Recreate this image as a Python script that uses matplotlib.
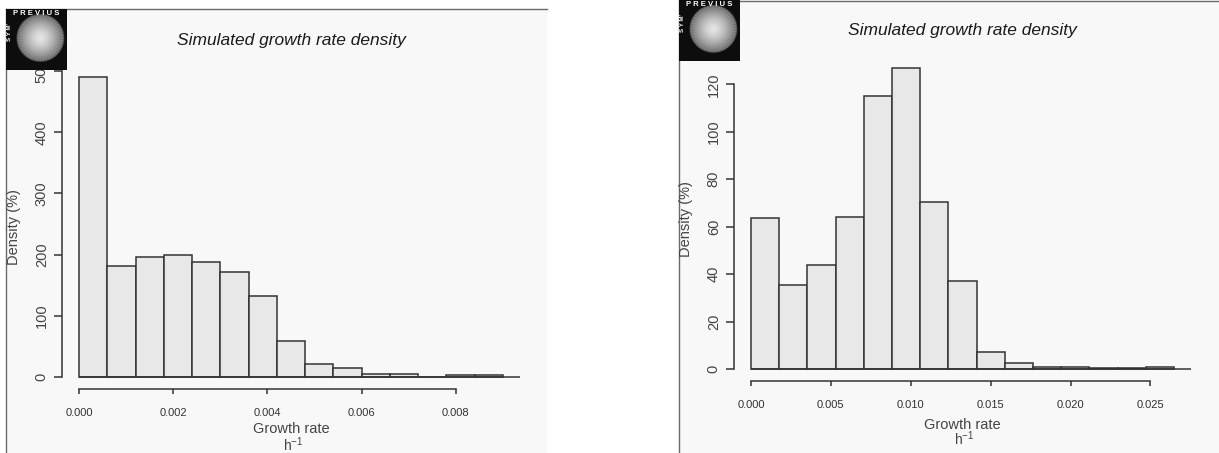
import numpy as np
import matplotlib
matplotlib.use("Agg")
import matplotlib.pyplot as plt
from matplotlib.patches import Rectangle
from matplotlib.lines import Line2D

plt.rcParams['font.family'] = ['Liberation Sans', 'DejaVu Sans']
plt.rcParams['mathtext.fontset'] = 'custom'
plt.rcParams['mathtext.rm'] = 'Liberation Sans'

# ---- data ----
# left histogram: 15 bins of width 0.0006 starting at 0
left_bin_width = 0.0006
left_density = [491, 182, 196, 199, 188, 172, 133, 59, 22, 15, 4.4, 4.4, 0, 2.7, 2.7]
left_xticks = [0.000, 0.002, 0.004, 0.006, 0.008]
left_yticks = [0, 100, 200, 300, 400, 500]

# right histogram: 15 bins of width ~0.001765 starting at 0
right_bin_width = 0.001765
right_density = [63.5, 35.4, 43.7, 64.2, 115.1, 126.7, 70.4, 37.1, 7.3, 2.7, 1.0, 0.7, 0.3, 0.3, 0.7]
right_xticks = [0.000, 0.005, 0.010, 0.015, 0.020, 0.025]
right_yticks = [0, 20, 40, 60, 80, 100, 120]

title = "Simulated growth rate density"

W, H = 1219, 453
fig = plt.figure(figsize=(W / 100, H / 100), dpi=100)
fig.patch.set_facecolor("white")


def fx(px):
    return px / W


def fy(py):
    return 1 - py / H


def panel(x0, y0, x1):
    # light panel background with left/top border lines
    fig.patches.append(Rectangle((fx(x0), 0), fx(x1) - fx(x0), fy(y0),
                                 transform=fig.transFigure, facecolor="#f8f8f8",
                                 edgecolor="none", zorder=0))
    fig.lines.append(Line2D([fx(x0), fx(x0)], [0, fy(y0)], transform=fig.transFigure,
                            color="#6a6a6a", lw=1.0))
    fig.lines.append(Line2D([fx(x0), fx(x1)], [fy(y0), fy(y0)], transform=fig.transFigure,
                            color="#6a6a6a", lw=1.0))


def logo(x0, y0, size):
    lax = fig.add_axes([fx(x0), fy(y0 + size), size / W, size / H], zorder=10)
    lax.set_xlim(0, 1)
    lax.set_ylim(0, 1)
    lax.set_facecolor("#0d0d0d")
    for s in lax.spines.values():
        s.set_visible(False)
    lax.set_xticks([])
    lax.set_yticks([])
    # radial glow disc
    n = 120
    yy, xx = np.mgrid[0:n, 0:n]
    cx, cy = 0.56 * n, 0.47 * n
    r = np.hypot(xx - cx, yy - cy) / (0.39 * n)
    ang = np.arctan2(yy - cy, xx - cx)
    val = 0.9 - 0.48 * r ** 1.4 + 0.05 * np.cos(ang * 48) * r
    img = np.dstack([np.clip(val, 0, 1)] * 3)
    alpha = np.clip((1.02 - r) * 20, 0, 1)
    img = np.dstack([img, alpha])
    lax.imshow(img, extent=(0, 1, 0, 1), origin="upper", interpolation="bilinear")
    lax.text(0.5, 0.99, "P R E V I U S", color="white", fontsize=5.6, fontweight="bold",
             ha="center", va="top")
    lax.text(0.06, 0.62, "S Y M'", color="white", fontsize=4.4, fontweight="bold",
             ha="center", va="center", rotation=90)


def hist_axes(box, bin_width, dens, xticks, yticks, xlab_y, h_y, title_y):
    x0, y0, x1, y1 = box
    ax = fig.add_axes([fx(x0), fy(y1), (x1 - x0) / W, (y1 - y0) / H], zorder=2)
    ax.set_facecolor("none")
    edges = np.arange(len(dens) + 1) * bin_width
    ax.bar(edges[:-1], dens, width=bin_width, align="edge", color="#e8e8e8",
           edgecolor="#333333", linewidth=1.1)
    xmax = edges[-1]
    ymax = max(dens)
    ax.set_xlim(-0.04 * xmax, 1.04 * xmax)
    ax.set_ylim(-0.04 * ymax, 1.04 * ymax)
    ax.hlines(0, 0, 1.04 * xmax, color="#333333", lw=1.1)
    for s in ("top", "right"):
        ax.spines[s].set_visible(False)
    for s in ("left", "bottom"):
        ax.spines[s].set_color("#333333")
        ax.spines[s].set_linewidth(1.1)
    ax.spines["left"].set_bounds(yticks[0], yticks[-1])
    ax.spines["bottom"].set_bounds(xticks[0], xticks[-1])
    ax.set_xticks(xticks)
    ax.set_xticklabels(["%.3f" % v for v in xticks])
    ax.set_yticks(yticks)
    ax.set_yticklabels([str(v) for v in yticks], rotation=90, va="center")
    ax.tick_params(axis="x", length=3.5, width=1.1, color="#333333", labelsize=8,
                   labelcolor="#333333", pad=10)
    ax.tick_params(axis="y", length=5.5, width=1.1, color="#333333", labelsize=10.5,
                   labelcolor="#444444", pad=4)
    cx = (x0 + x1) / 2
    fig.text(fx(cx), fy(title_y), title, fontsize=12.5, style="italic",
             ha="center", va="center", color="#1a1a1a")
    fig.text(fx(cx), fy(xlab_y), "Growth rate", fontsize=10.5, ha="center", va="center",
             color="#444444")
    fig.text(fx(cx + 2), fy(h_y), r"$\mathregular{h^{-1}}$", fontsize=10, ha="center",
             va="center", color="#444444")
    fig.text(fx(x0 - 48), fy((y0 + y1) / 2), "Density (%)", fontsize=10.5, rotation=90,
             ha="center", va="center", color="#444444")
    return ax


panel(6, 9, 547)
panel(679, 1, W)

hist_axes((62, 64.5, 520, 389), left_bin_width, left_density, left_xticks, left_yticks,
          429, 444.5, 40)
hist_axes((734, 56.4, 1191, 381), right_bin_width, right_density, right_xticks, right_yticks,
          425, 439, 31)

logo(6, 9, 61)
logo(679, 0, 61)

fig.savefig("out.png", dpi=100)
